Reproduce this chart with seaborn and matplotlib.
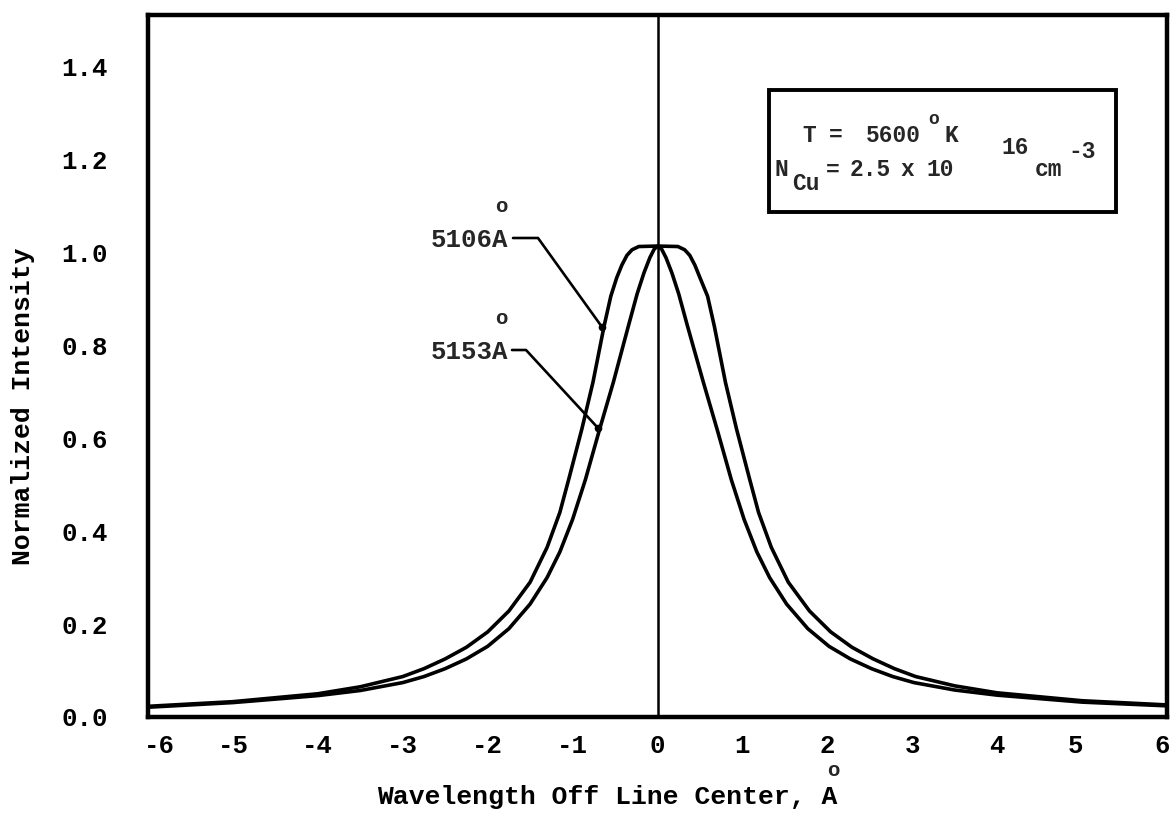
import numpy as np
import pandas as pd
import matplotlib
matplotlib.use("Agg")
import matplotlib.pyplot as plt
import matplotlib.patches as mpatches
import matplotlib.transforms as mtransforms
import seaborn as sns

# ---- data ----
x_5106 = [-6, -5, -4, -3.5, -3.0, -2.75, -2.5, -2.25, -2.0, -1.75, -1.5, -1.3, -1.15, -1.04,
          -0.89, -0.76, -0.63, -0.55, -0.48, -0.42, -0.36, -0.30, -0.22, 0.0, 0.24, 0.32,
          0.38, 0.44, 0.50, 0.59, 0.67, 0.80, 0.93, 1.08, 1.19, 1.34, 1.54, 1.79, 2.04,
          2.29, 2.54, 2.79, 3.04, 3.5, 4, 5, 6]
y_5106 = [0.023, 0.033, 0.050, 0.065, 0.087, 0.104, 0.125, 0.150, 0.183, 0.228, 0.290, 0.365, 0.440, 0.515,
          0.620, 0.720, 0.840, 0.905, 0.945, 0.972, 0.993, 1.005, 1.012, 1.013, 1.012, 1.005,
          0.993, 0.972, 0.945, 0.905, 0.840, 0.720, 0.620, 0.515, 0.440, 0.365, 0.290, 0.228, 0.183,
          0.150, 0.125, 0.104, 0.087, 0.067, 0.052, 0.035, 0.026]

x_5153 = [-6, -5, -4, -3.5, -3.0, -2.75, -2.5, -2.25, -2.0, -1.75, -1.5, -1.3, -1.15, -1.0,
          -0.85, -0.68, -0.52, -0.34, -0.24, -0.16, -0.09, -0.04, 0.0, 0.05, 0.10, 0.17,
          0.25, 0.35, 0.54, 0.70, 0.87, 1.02, 1.17, 1.32, 1.52, 1.77, 2.02, 2.27, 2.52,
          2.77, 3.02, 3.5, 4, 5, 6]
y_5153 = [0.021, 0.031, 0.046, 0.057, 0.074, 0.087, 0.104, 0.125, 0.152, 0.190, 0.243, 0.300, 0.355, 0.425,
          0.510, 0.620, 0.720, 0.843, 0.910, 0.955, 0.988, 1.006, 1.013, 1.006, 0.988, 0.955,
          0.910, 0.843, 0.720, 0.620, 0.510, 0.425, 0.355, 0.300, 0.243, 0.190, 0.152, 0.125, 0.104,
          0.087, 0.074, 0.058, 0.047, 0.032, 0.024]

x_ticks = [-6, -5, -4, -3, -2, -1, 0, 1, 2, 3, 4, 5, 6]
y_ticks = [0.0, 0.2, 0.4, 0.6, 0.8, 1.0, 1.2, 1.4]
y_ticklabels = ["0.0", "0.2", "0.4", "0.6", "0.8", "1.0", "1.2", "1.4"]

df = pd.concat([
    pd.DataFrame({"x": x_5106, "y": y_5106, "line": "5106"}),
    pd.DataFrame({"x": x_5153, "y": y_5153, "line": "5153"}),
], ignore_index=True)

sns.set_theme(style="white")
plt.rcParams['font.family'] = ['Liberation Mono', 'DejaVu Sans']
plt.rcParams['font.weight'] = 'bold'
plt.rcParams['axes.labelweight'] = 'bold'

W, H = 1174, 831
AX_L, AX_R, AX_T, AX_B = 148, 1167, 15, 717
XMIN, XMAX, YMIN, YMAX = -6, 6, 0.0, 1.51

fig = plt.figure(figsize=(W / 100, H / 100), dpi=100)
fig.patch.set_facecolor("white")
ax = fig.add_axes([AX_L / W, 1 - AX_B / H, (AX_R - AX_L) / W, (AX_B - AX_T) / H])


def P(px, py):
    return px / W, 1 - py / H


def D(px, py):
    return (XMIN + (px - AX_L) / (AX_R - AX_L) * (XMAX - XMIN),
            YMIN + (AX_B - py) / (AX_B - AX_T) * (YMAX - YMIN))


sns.lineplot(data=df, x="x", y="y", hue="line", units="line",
             palette={"5106": "black", "5153": "black"},
             estimator=None, sort=False, linewidth=2.6, legend=False, ax=ax)

ax.axvline(0, color="black", lw=1.8)

ax.set_xlim(XMIN, XMAX)
ax.set_ylim(YMIN, YMAX)
ax.set_xticks(x_ticks)
ax.set_xticklabels([str(v) for v in x_ticks])
ax.set_yticks(y_ticks)
ax.set_yticklabels(y_ticklabels)
ax.tick_params(axis="y", direction="in", length=10, width=2, labelsize=18.5, pad=29, colors="black")
ax.tick_params(axis="x", direction="in", length=6, width=2, labelsize=18.5, pad=12, colors="black")
for s in ax.spines.values():
    s.set_visible(True)
    s.set_color("black")
    s.set_linewidth(3.2)

# typewriter placement: end labels nudged inside the frame
xt_labels = ax.get_xticklabels()
for lab, dx in ((xt_labels[0], 11), (xt_labels[-1], -5), (xt_labels[-2], -7)):
    lab.set_transform(lab.get_transform() +
                      mtransforms.ScaledTranslation(dx / 100, 0, fig.dpi_scale_trans))

ax.set_xlabel("Wavelength Off Line Center, A", fontsize=19, color="black", fontweight="bold")
ax.set_ylabel("Normalized Intensity", fontsize=19, color="black", fontweight="bold")
ax.xaxis.label.set_va("center")
ax.yaxis.label.set_va("center")
ax.xaxis.set_label_coords((607 - AX_L) / (AX_R - AX_L), (AX_B - 797) / (AX_B - AX_T))
ax.yaxis.set_label_coords((23 - AX_L) / (AX_R - AX_L), (AX_B - 406) / (AX_B - AX_T))
fig.text(*P(833, 770), "o", fontsize=15, ha="center", va="center")

# curve labels with leaders
fig.text(*P(508, 240), "5106A", fontsize=18.5, ha="right", va="center")
fig.text(*P(501, 206), "o", fontsize=15, ha="center", va="center")
fig.text(*P(508, 352), "5153A", fontsize=18.5, ha="right", va="center")
fig.text(*P(501, 318), "o", fontsize=15, ha="center", va="center")

lead1 = [D(513, 238), D(538, 238), D(602, 327)]
lead2 = [D(512, 350), D(526, 350), D(598, 428)]
for lead in (lead1, lead2):
    xs, ys = zip(*lead)
    ax.plot(xs, ys, color="black", lw=1.9)
    ax.plot([xs[-1]], [ys[-1]], marker="o", ms=4.5, color="black")

# parameter box
box = mpatches.Rectangle(P(769, 212), (1116 - 769) / W, (212 - 90) / H,
                         transform=fig.transFigure, fill=False, lw=2.8, edgecolor="black")
fig.add_artist(box)
fs = 16.5
fig.text(*P(809, 135), "T", fontsize=fs, ha="center", va="center")
fig.text(*P(836, 135), "=", fontsize=fs, ha="center", va="center")
fig.text(*P(893, 135), "5600", fontsize=fs, ha="center", va="center")
fig.text(*P(934, 119), "o", fontsize=13, ha="center", va="center")
fig.text(*P(951, 135), "K", fontsize=fs, ha="center", va="center")

fig.text(*P(781, 170), "N", fontsize=fs, ha="center", va="center")
fig.text(*P(806, 183), "Cu", fontsize=fs, ha="center", va="center")
fig.text(*P(833, 170), "=", fontsize=fs, ha="center", va="center")
fig.text(*P(870, 170), "2.5", fontsize=fs, ha="center", va="center")
fig.text(*P(907, 170), "x", fontsize=fs, ha="center", va="center")
fig.text(*P(940, 170), "10", fontsize=fs, ha="center", va="center")
fig.text(*P(1015, 148), "16", fontsize=fs, ha="center", va="center")
fig.text(*P(1049, 169), "cm", fontsize=fs, ha="center", va="center")
fig.text(*P(1082, 152), "-3", fontsize=fs, ha="center", va="center")

fig.savefig("out.png", dpi=100, facecolor="white")
